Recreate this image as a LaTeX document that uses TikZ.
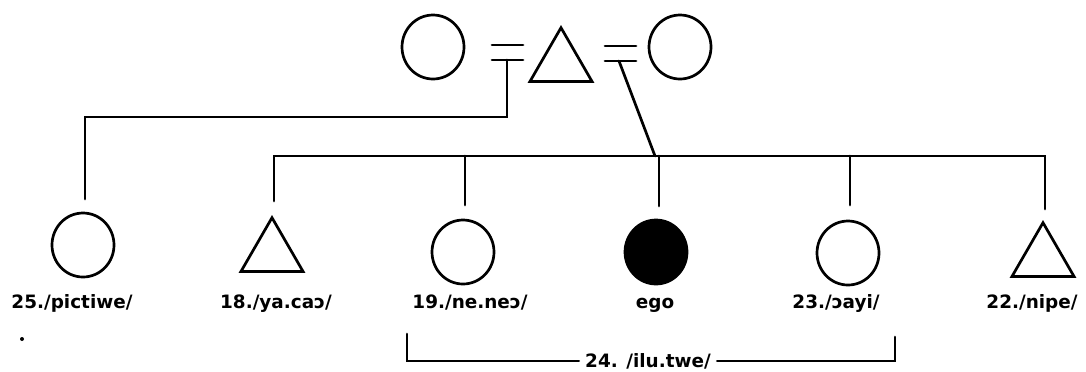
\documentclass[tikz,border=0pt]{standalone}
\usepackage{fontspec}
\setmainfont{DejaVu Sans}
\usetikzlibrary{shapes.geometric}
\tikzset{
  line/.style={line width=1.35pt, line cap=round, line join=miter},
  female/.style={ellipse, draw, line width=1.35pt, inner sep=0pt, minimum width=31pt, minimum height=32pt},
  ego/.style={female, fill=black},
  male/.style={regular polygon, regular polygon sides=3, draw, line width=1.35pt, inner sep=0pt, minimum size=35.8pt, anchor=north},
  lbl/.style={font=\fontsize{9.2}{11}\selectfont\bfseries, anchor=base, inner sep=0pt},
}
\begin{document}
\begin{tikzpicture}[x=0.5pt, y=-0.5pt]
\useasboundingbox (0,0) rectangle (1086,371);
% parents
\node[female] (w1) at (433,47) {};
\node[male] (h) at (561,25) {};
\node[female] (w2) at (680,47) {};
% marriage signs
\coordinate (m1a) at (492,45); \coordinate (m1b) at (523,45);
\coordinate (m1c) at (492,60); \coordinate (m1d) at (523,60);
\coordinate (m2a) at (605,46); \coordinate (m2b) at (636,46);
\coordinate (m2c) at (605,61); \coordinate (m2d) at (636,61);
\draw[line] (m1a) -- (m1b) (m1c) -- (m1d);
\draw[line] (m2a) -- (m2b) (m2c) -- (m2d);
\coordinate (m1) at (507,60);
\coordinate (m2) at (619,61);
% children
\node[female] (c1) at (83,245) {};
\node[male] (c2) at (272,215) {};
\node[female] (c3) at (463,252) {};
\node[ego] (c4) at (656,252) {};
\node[female] (c5) at (848,253) {};
\node[male] (c6) at (1043,220) {};
% descent lines
\coordinate (d1) at (85,199);
\draw[line] (m1) -- (507,117) -| (d1);
\coordinate (sl) at (274,201);
\coordinate (sr) at (1045,209);
\coordinate (jn) at (655,156);
\draw[line] (sl) -- (274,156) -- (1045,156) -- (sr);
\draw[line] (m2) -- (jn);
\coordinate (s3) at (465,205);
\coordinate (s4) at (659,206);
\coordinate (s5) at (850,205);
\draw[line] (465,156) -- (s3);
\draw[line] (659,156) -- (s4);
\draw[line] (850,156) -- (s5);
% labels
\node[lbl] (l1) at (72,308) {25./pictiwe/};
\node[lbl] (l2) at (276,308) {18./ya.caɔ/};
\node[lbl] (l3) at (470,308) {19./ne.neɔ/};
\node[lbl] (l4) at (655,308) {ego};
\node[lbl] (l5) at (836,308) {23./ɔayi/};
\node[lbl] (l6) at (1032,308) {22./nipe/};
\fill (22,339) circle (1pt);
% bracket
\node[lbl, anchor=center] (br) at (648,361) {24. /ilu.twe/};
\coordinate (b1) at (407,334);
\coordinate (b2) at (895,337);
\draw[line] (b1) |- ([xshift=-3pt]br.west);
\draw[line] ([xshift=3pt]br.east) -| (b2);
\end{tikzpicture}
\end{document}
